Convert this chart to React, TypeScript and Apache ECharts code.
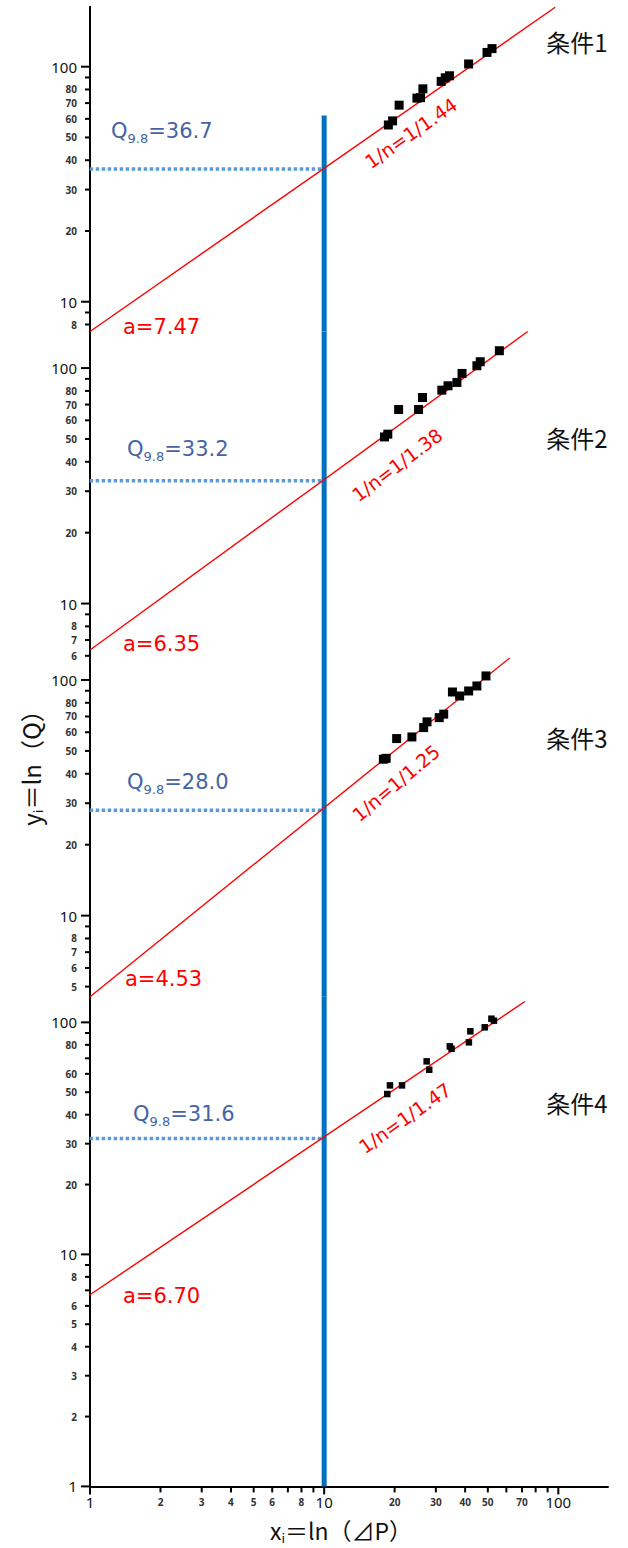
import React, { useEffect, useRef } from 'react';
import * as echarts from 'echarts';

// ---------- data ----------
const panelNames = ['条件1', '条件2', '条件3', '条件4'];
const aLabels = ['7.47', '6.35', '4.53', '6.70'];
const nLabels = ['1/1.44', '1/1.38', '1/1.25', '1/1.47'];
const q98Values = [36.7, 33.2, 28.0, 31.6];
const q98Labels = ['36.7', '33.2', '28.0', '31.6'];
const q98X = 10;
const dottedStartX = 0.886;

const yMins = [7.47, 6.35, 4.53, 1];
const yMaxs = [180, 143, 134, 129];
const blueTops = [62, 143, 134, 129];
const xMin = 1;
const xMax = 163;

const fit1 = [[1, 7.47], [97, 179]];
const fit2 = [[1, 6.35], [74, 143]];
const fit3 = [[1, 4.53], [62, 124]];
const fit4 = [[1, 6.7], [72, 123]];

const points1 = [
  [18.8, 56.5], [19.6, 58.8], [20.9, 68.6], [24.9, 73.5], [25.8, 73.8], [26.4, 80.5],
  [31.6, 86.6], [32.9, 89.7], [34.3, 91.5], [41.4, 102.7], [49.6, 115], [52.1, 119.4],
];
const points2 = [
  [18.1, 51.0], [18.7, 52.4], [20.8, 66.7], [25.3, 66.7], [26.3, 75.0], [31.8, 80.6],
  [33.8, 84.1], [36.9, 86.9], [38.8, 94.9], [44.9, 102.3], [46.4, 106.4], [56.0, 118.5],
];
const points3 = [
  [17.9, 46.1], [18.4, 46.5], [20.4, 56.4], [23.7, 57.3], [26.6, 62.8], [27.5, 66.4],
  [31.0, 69.2], [32.4, 71.6], [35.3, 88.9], [37.9, 85.5], [41.4, 89.8], [44.9, 94.3], [49.1, 104.0],
];
const points4 = [
  [18.6, 49.1], [19.1, 53.5], [21.5, 53.5], [27.4, 67.9], [28.1, 62.5], [34.4, 78.8],
  [35.0, 77.0], [41.5, 82.0], [42.1, 91.5], [48.5, 95.2], [51.8, 103.7], [53.1, 101.7],
];

const yTicks1 = [100, 90, 80, 70, 60, 50, 40, 30, 20, 10, 9, 8];
const yTickLabels1 = ['100', '80', '70', '60', '50', '40', '30', '20', '10', '8'];
const yTicks2 = [100, 90, 80, 70, 60, 50, 40, 30, 20, 10, 9, 8, 7, 6];
const yTickLabels2 = ['100', '80', '70', '60', '50', '40', '30', '20', '10', '8', '7', '6'];
const yTicks3 = [100, 90, 80, 70, 60, 50, 40, 30, 20, 10, 9, 8, 7, 6, 5];
const yTickLabels3 = ['100', '80', '70', '60', '50', '40', '30', '20', '10', '8', '7', '6', '5'];
const yTicks4 = [100, 90, 80, 70, 60, 50, 40, 30, 20, 10, 9, 8, 7, 6, 5, 4, 3, 2, 1];
const yTickLabels4 = ['100', '80', '60', '50', '40', '30', '20', '10', '8', '6', '5', '4', '3', '2', '1'];

const xTicks = [1, 2, 3, 4, 5, 6, 7, 8, 9, 10, 20, 30, 40, 50, 60, 70, 80, 90, 100];
const xTickLabels = ['1', '2', '3', '4', '5', '6', '8', '10', '20', '30', '40', '50', '70', '100'];

const fits = [fit1, fit2, fit3, fit4];
const points = [points1, points2, points3, points4];
const yTicks = [yTicks1, yTicks2, yTicks3, yTicks4];
const yTickLabels = [yTickLabels1, yTickLabels2, yTickLabels3, yTickLabels4];

// ---------- layout ----------
const gridTops = [6.7, 331.5, 650, 996.7];
const gridHeights = [324.8, 318.5, 346.7, 489.7];
const GRID_LEFT = 90;
const GRID_RIGHT = 20;

const qLabelPos = [[111, 131], [127, 449], [127, 782], [133, 1114]];
const aLabelPos = [[123, 327], [123, 644], [125, 979], [123, 1296]];
const nLabelPos = [[411, 133], [397, 465], [396, 783], [405, 1118]];
const nLabelAngle = [35, 37, 40, 35];
const nameLabelPos = [[577, 41], [577, 437], [577, 737], [577, 1102]];

const NUM_FONT = '"Noto Sans", "DejaVu Sans", sans-serif';
const WIDE_FONT = '"DejaVu Sans", "Noto Sans", sans-serif';
const JP_FONT = '"Noto Sans CJK JP", "Noto Sans", sans-serif';
const RED = '#FF0000';
const QBLUE = '#4464A4';

const isPow10 = (v: number) => Math.abs(Math.log10(v) - Math.round(Math.log10(v))) < 1e-9;

function yTickSeries(i: number) {
  const labels = yTickLabels[i];
  return {
    type: 'custom',
    xAxisIndex: i,
    yAxisIndex: i,
    clip: false,
    silent: true,
    z: 6,
    data: yTicks[i].map((v) => [xMin, v]),
    renderItem: (params: any, api: any) => {
      const v = api.value(1);
      const p = api.coord([xMin, v]);
      const major = isPow10(v);
      const lab = labels.includes(String(v)) ? String(v) : '';
      const len = major ? 9 : 5;
      return {
        type: 'group',
        children: [
          {
            type: 'line',
            shape: { x1: p[0] - len, y1: p[1], x2: p[0], y2: p[1] },
            style: { stroke: '#000', lineWidth: 2 },
          },
          {
            type: 'text',
            x: p[0] - 13,
            y: p[1],
            style: {
              text: lab,
              align: 'right',
              verticalAlign: 'middle',
              fontSize: major ? 15 : 10,
              fontWeight: major ? 'normal' : 'bold',
              fontFamily: NUM_FONT,
              fill: major ? '#111' : '#333',
            },
          },
        ],
      };
    },
  };
}

function xTickSeries() {
  return {
    type: 'custom',
    xAxisIndex: 3,
    yAxisIndex: 3,
    clip: false,
    silent: true,
    z: 6,
    data: xTicks.map((v) => [v, yMins[3]]),
    renderItem: (params: any, api: any) => {
      const v = api.value(0);
      const p = api.coord([v, yMins[3]]);
      const major = isPow10(v);
      const lab = xTickLabels.includes(String(v)) ? String(v) : '';
      return {
        type: 'group',
        children: [
          {
            type: 'line',
            shape: { x1: p[0], y1: p[1], x2: p[0], y2: p[1] + (major ? 8 : 6) },
            style: { stroke: '#000', lineWidth: 2 },
          },
          {
            type: 'text',
            x: p[0],
            y: p[1] + 16,
            style: {
              text: lab,
              align: 'center',
              verticalAlign: 'middle',
              fontSize: major ? 15 : 10,
              fontWeight: major ? 'normal' : 'bold',
              fontFamily: NUM_FONT,
              fill: major ? '#111' : '#333',
            },
          },
        ],
      };
    },
  };
}

function buildOption() {
  const grid = gridTops.map((t, i) => ({
    left: GRID_LEFT,
    right: GRID_RIGHT,
    top: t,
    height: gridHeights[i],
    containLabel: false,
  }));
  const xAxis = gridTops.map((_, i) => ({
    type: 'log',
    gridIndex: i,
    min: xMin,
    max: xMax,
    show: i === 3,
    axisLine: { show: true, onZero: false, lineStyle: { color: '#000', width: 2 } },
    axisTick: { show: false },
    axisLabel: { show: false },
    splitLine: { show: false },
  }));
  const yAxis = gridTops.map((_, i) => ({
    type: 'log',
    gridIndex: i,
    min: yMins[i],
    max: yMaxs[i],
    axisLine: { show: true, onZero: false, lineStyle: { color: '#000', width: 2 } },
    axisTick: { show: false },
    axisLabel: { show: false },
    splitLine: { show: false },
  }));

  const series: any[] = [];
  for (let i = 0; i < 4; i++) {
    series.push({
      type: 'line',
      xAxisIndex: i,
      yAxisIndex: i,
      data: [[q98X, blueTops[i]], [q98X, yMins[i]]],
      symbol: 'none',
      clip: false,
      silent: true,
      lineStyle: { color: '#0070C0', width: 5 },
      z: 2,
    });
    series.push({
      type: 'line',
      xAxisIndex: i,
      yAxisIndex: i,
      data: [[dottedStartX, q98Values[i]], [q98X, q98Values[i]]],
      symbol: 'none',
      clip: false,
      silent: true,
      lineStyle: { color: '#5B9BD5', width: 3.5, type: [3.5, 2.5], cap: 'butt' },
      z: 1,
    });
    series.push({
      type: 'line',
      xAxisIndex: i,
      yAxisIndex: i,
      data: fits[i],
      symbol: 'none',
      silent: true,
      lineStyle: { color: RED, width: 1.4 },
      z: 3,
    });
    series.push({
      type: 'scatter',
      xAxisIndex: i,
      yAxisIndex: i,
      data: points[i],
      symbol: 'rect',
      symbolSize: i === 3 ? 6.5 : 9,
      itemStyle: { color: '#000', opacity: 1 },
      silent: true,
      z: 4,
    });
    series.push(yTickSeries(i));
  }
  series.push(xTickSeries());

  const graphic: any[] = [];
  for (let i = 0; i < 4; i++) {
    graphic.push({
      type: 'text',
      x: qLabelPos[i][0],
      y: qLabelPos[i][1],
      style: {
        text: `{m|Q}{s|9.8}{m|=${q98Labels[i]}}`,
        align: 'left',
        verticalAlign: 'middle',
        fill: QBLUE,
        rich: {
          m: { fontSize: 21, lineHeight: 22, fontFamily: WIDE_FONT, fill: QBLUE },
          s: { fontSize: 13, lineHeight: 13, padding: [15, 0, 0, 0], fontFamily: WIDE_FONT, fill: QBLUE },
        },
      },
    });
    graphic.push({
      type: 'text',
      x: aLabelPos[i][0],
      y: aLabelPos[i][1],
      style: {
        text: `a=${aLabels[i]}`,
        align: 'left',
        verticalAlign: 'middle',
        fontSize: 21,
        fontFamily: WIDE_FONT,
        fill: RED,
      },
    });
    graphic.push({
      type: 'text',
      x: nLabelPos[i][0],
      y: nLabelPos[i][1],
      rotation: (nLabelAngle[i] * Math.PI) / 180,
      style: {
        text: `1/n=${nLabels[i]}`,
        align: 'center',
        verticalAlign: 'middle',
        fontSize: 19,
        fontFamily: WIDE_FONT,
        fill: RED,
      },
    });
    graphic.push({
      type: 'text',
      x: nameLabelPos[i][0],
      y: nameLabelPos[i][1],
      style: {
        text: panelNames[i],
        align: 'center',
        verticalAlign: 'middle',
        fontSize: 24,
        fontFamily: JP_FONT,
        fill: '#111',
      },
    });
  }
  graphic.push({
    type: 'text',
    x: 30,
    y: 762,
    rotation: Math.PI / 2,
    style: {
      text: '{m|y}{s|i}{m|＝ln（Q）}',
      align: 'center',
      verticalAlign: 'middle',
      fill: '#111',
      rich: {
        m: { fontSize: 24, lineHeight: 24, fontFamily: JP_FONT, fill: '#111' },
        s: { fontSize: 13, lineHeight: 10, padding: [14, 0, 0, 0], fontFamily: JP_FONT, fill: '#111' },
      },
    },
  });
  graphic.push({
    type: 'text',
    x: 341,
    y: 1530,
    style: {
      text: '{m|x}{s|i}{m|＝ln（⊿P）}',
      align: 'center',
      verticalAlign: 'middle',
      fill: '#111',
      rich: {
        m: { fontSize: 23, lineHeight: 23, fontFamily: JP_FONT, fill: '#111' },
        s: { fontSize: 13, lineHeight: 9, padding: [14, 0, 0, 0], fontFamily: JP_FONT, fill: '#111' },
      },
    },
  });

  return {
    animation: false,
    backgroundColor: '#fff',
    grid,
    xAxis,
    yAxis,
    series,
    graphic,
  };
}

export default function App() {
  const ref = useRef<HTMLDivElement>(null);
  useEffect(() => {
    if (!ref.current) return;
    const chart = echarts.init(ref.current, undefined, { renderer: 'svg' });
    chart.setOption(buildOption() as any);
    return () => chart.dispose();
  }, []);
  return (
    <div
      ref={ref}
      style={{ position: 'absolute', left: 0, top: 0, width: 628, height: 1548, background: '#fff' }}
    />
  );
}
